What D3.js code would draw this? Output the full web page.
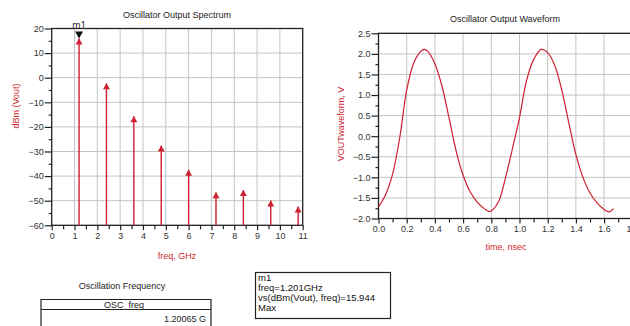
<!DOCTYPE html>
<html><head><meta charset="utf-8">
<script src="https://cdn.jsdelivr.net/npm/d3@7"></script>
<style>
body{margin:0;background:#fff;}
text{font-family:"Liberation Sans",Arial,sans-serif;}
</style></head>
<body>
<svg id="c" width="630" height="326"></svg>
<script>
// ---- data ----
const specFreq = [1.2, 2.4, 3.6, 4.8, 6.0, 7.2, 8.4, 9.6, 10.8];
const specDbm  = [15.944, -2.3, -15.7, -27.6, -37.4, -46.6, -45.7, -49.9, -52.4];
const specXTicks = [0,1,2,3,4,5,6,7,8,9,10,11];
const specYTicks = [20,10,0,-10,-20,-30,-40,-50,-60];

const waveT = [0.00,0.05,0.10,0.15,0.20,0.25,0.30,0.325,0.35,0.40,0.45,0.50,0.55,0.60,0.65,0.70,0.75,0.79,0.85,0.90,0.95,1.00,1.05,1.10,1.155,1.20,1.25,1.30,1.35,1.40,1.45,1.50,1.55,1.60,1.635,1.667];
const waveV = [-1.72,-1.42,-0.92,-0.05,1.12,1.78,2.06,2.11,2.06,1.76,1.22,0.45,-0.35,-0.95,-1.35,-1.60,-1.76,-1.83,-1.60,-1.02,-0.30,0.45,1.35,1.86,2.11,2.03,1.72,1.12,0.32,-0.45,-1.00,-1.38,-1.62,-1.78,-1.84,-1.76];
const waveXTicks = [0.0,0.2,0.4,0.6,0.8,1.0,1.2,1.4,1.6,1.8];
const waveYTicks = [2.5,2.0,1.5,1.0,0.5,0.0,-0.5,-1.0,-1.5,-2.0];

const markerText = ["m1","freq=1.201GHz","vs(dBm(Vout), freq)=15.944","Max"];
const tableTitle = "Oscillation Frequency";
const tableHeader = "OSC_freq";
const tableValue = "1.20065 G";

const RED = "#cc1f2f", GRID = "#c4c4c4", TXT = "#333";
const svg = d3.select("#c");

// ---- spectrum ----
const L = {x0:51.7, x1:302.7, y0:28.5, y1:225.3};
const sx = d3.scaleLinear().domain([0,11]).range([L.x0,L.x1]);
const sy = d3.scaleLinear().domain([-60,20]).range([L.y1,L.y0]);
const g1 = svg.append("g");
g1.selectAll(".gv").data(specXTicks.slice(1,-1)).join("line")
  .attr("x1",d=>sx(d)).attr("x2",d=>sx(d)).attr("y1",L.y0).attr("y2",L.y1)
  .attr("stroke",GRID).attr("stroke-width",1);
g1.selectAll(".gh").data(specYTicks.slice(1,-1)).join("line")
  .attr("y1",d=>sy(d)).attr("y2",d=>sy(d)).attr("x1",L.x0).attr("x2",L.x1)
  .attr("stroke",GRID).attr("stroke-width",1);
g1.append("rect").attr("x",L.x0).attr("y",L.y0).attr("width",L.x1-L.x0).attr("height",L.y1-L.y0)
  .attr("fill","none").attr("stroke","#222").attr("stroke-width",1.3);
const ax1 = g1.append("g").attr("transform",`translate(0,${L.y1})`)
  .call(d3.axisBottom(sx).tickValues(specXTicks).tickSize(5).tickFormat(d3.format("d")));
const ax1m = g1.append("g").attr("transform",`translate(0,${L.y1})`)
  .call(d3.axisBottom(sx).tickValues(d3.range(0.5,11,1)).tickSize(4).tickFormat(""));
const ay1 = g1.append("g").attr("transform",`translate(${L.x0},0)`)
  .call(d3.axisLeft(sy).tickValues(specYTicks).tickSize(7).tickFormat(d3.format("d")));
const ay1m = g1.append("g").attr("transform",`translate(${L.x0},0)`)
  .call(d3.axisLeft(sy).tickValues(d3.range(-55,20,10)).tickSize(3).tickFormat(""));
[ax1,ax1m,ay1,ay1m].forEach(a=>{a.select(".domain").remove();
  a.selectAll("line").attr("stroke","#222").attr("stroke-width",1.2);
  a.selectAll("text").attr("fill",TXT).style("font-size","9px");});
ay1.selectAll("text").attr("x",-8);
ax1.selectAll("text").attr("y",7);
g1.selectAll(".stem").data(specFreq).join("line")
  .attr("x1",d=>sx(d)).attr("x2",d=>sx(d)).attr("y1",sy(-60)).attr("y2",(d,i)=>sy(specDbm[i]))
  .attr("stroke",RED).attr("stroke-width",1.4);
g1.selectAll(".tri").data(specFreq).join("path")
  .attr("d",(d,i)=>{const x=sx(d),y=sy(specDbm[i]);return `M${x},${y} L${x-3.5},${y+6} L${x+3.5},${y+6} Z`;})
  .attr("fill",RED);
{const x=sx(specFreq[0]), y=sy(specDbm[0]);
 g1.append("path").attr("d",`M${x},${y} L${x-4},${y-7} L${x+4},${y-7} Z`).attr("fill","#111");
 g1.append("text").attr("x",x).attr("y",y-9).attr("text-anchor","middle").attr("fill",TXT)
   .style("font-size","10px").text(markerText[0]);}
g1.append("text").attr("x",177).attr("y",18).attr("text-anchor","middle").attr("fill","#222")
  .style("font-size","9px").text("Oscillator Output Spectrum");
g1.append("text").attr("transform","translate(19,106) rotate(-90)").attr("text-anchor","middle")
  .attr("fill",RED).style("font-size","9px").text("dBm (Vout)");
g1.append("text").attr("x",177).attr("y",259).attr("text-anchor","middle")
  .attr("fill",RED).style("font-size","9px").text("freq, GHz");

// ---- waveform ----
const R = {x0:378.5, y0:33.3, y1:218.5};
const wx = d3.scaleLinear().domain([0,1.8]).range([R.x0, R.x0+1.8*141]);
const wy = d3.scaleLinear().domain([-2,2.5]).range([R.y1,R.y0]);
const g2 = svg.append("g");
g2.selectAll(".gv").data(waveXTicks.slice(1)).join("line")
  .attr("x1",d=>wx(d)).attr("x2",d=>wx(d)).attr("y1",R.y0).attr("y2",R.y1)
  .attr("stroke",GRID).attr("stroke-width",1);
g2.selectAll(".gh").data(waveYTicks.slice(1,-1)).join("line")
  .attr("y1",d=>wy(d)).attr("y2",d=>wy(d)).attr("x1",R.x0).attr("x2",wx(1.8))
  .attr("stroke",GRID).attr("stroke-width",1);
g2.append("rect").attr("x",R.x0).attr("y",R.y0).attr("width",wx(1.8)-R.x0).attr("height",R.y1-R.y0)
  .attr("fill","none").attr("stroke","#222").attr("stroke-width",1.3);
const ax2 = g2.append("g").attr("transform",`translate(0,${R.y1})`)
  .call(d3.axisBottom(wx).tickValues(waveXTicks).tickSize(5).tickFormat(d3.format(".1f")));
const ax2m = g2.append("g").attr("transform",`translate(0,${R.y1})`)
  .call(d3.axisBottom(wx).tickValues(d3.range(0.1,1.8,0.2)).tickSize(4).tickFormat(""));
const ay2 = g2.append("g").attr("transform",`translate(${R.x0},0)`)
  .call(d3.axisLeft(wy).tickValues(waveYTicks).tickSize(7).tickFormat(d3.format(".1f")));
const ay2m = g2.append("g").attr("transform",`translate(${R.x0},0)`)
  .call(d3.axisLeft(wy).tickValues(d3.range(-1.75,2.5,0.5)).tickSize(3).tickFormat(""));
[ax2,ax2m,ay2,ay2m].forEach(a=>{a.select(".domain").remove();
  a.selectAll("line").attr("stroke","#222").attr("stroke-width",1.2);
  a.selectAll("text").attr("fill",TXT).style("font-size","9px");});
ay2.selectAll("text").attr("x",-8);
ax2.selectAll("text").attr("y",7);
g2.append("path").datum(waveT.map((t,i)=>[t,waveV[i]]))
  .attr("d",d3.line().x(d=>wx(d[0])).y(d=>wy(d[1])).curve(d3.curveCatmullRom.alpha(0.5)))
  .attr("fill","none").attr("stroke",RED).attr("stroke-width",1.2);
g2.append("text").attr("x",505).attr("y",22).attr("text-anchor","middle").attr("fill","#222")
  .style("font-size","9px").text("Oscillator Output Waveform");
g2.append("text").attr("transform","translate(344,124) rotate(-90)").attr("text-anchor","middle")
  .attr("fill",RED).style("font-size","9px").text("VOUTwaveform, V");
g2.append("text").attr("x",506).attr("y",250).attr("text-anchor","middle")
  .attr("fill",RED).style("font-size","9px").text("time, nsec");

// ---- table ----
const g3 = svg.append("g");
g3.append("text").attr("x",122).attr("y",289).attr("text-anchor","middle").attr("fill","#222")
  .style("font-size","9px").text(tableTitle);
g3.append("path").attr("d","M41,330 L41,299.5 L211,299.5 L211,330 M41,309.5 L211,309.5")
  .attr("fill","none").attr("stroke","#222").attr("stroke-width",1.2);
g3.append("text").attr("x",124).attr("y",307.5).attr("text-anchor","middle").attr("fill","#222")
  .style("font-size","9px").text(tableHeader);
g3.append("text").attr("x",206).attr("y",322).attr("text-anchor","end").attr("fill","#222")
  .style("font-size","9px").text(tableValue);

// ---- marker box ----
const g4 = svg.append("g");
g4.append("rect").attr("x",255.5).attr("y",272.5).attr("width",135).attr("height",46)
  .attr("fill","none").attr("stroke","#222").attr("stroke-width",1.2);
g4.selectAll("text").data(markerText).join("text")
  .attr("x",258).attr("y",(d,i)=>281+i*10).attr("fill","#111").style("font-size","9.5px").text(d=>d);
</script>
</body></html>
